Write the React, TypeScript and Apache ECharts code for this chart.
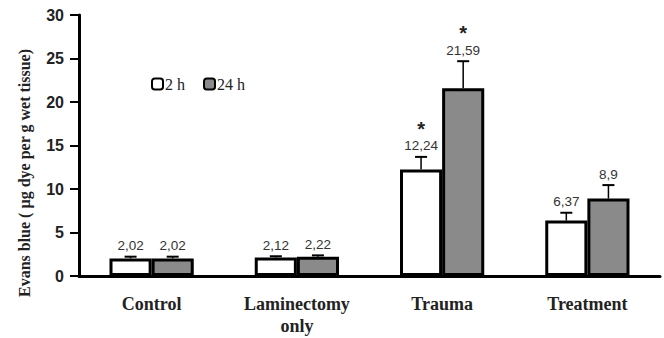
import React, { useEffect, useRef } from "react";
import * as echarts from "echarts";

const categories = ["Control", "Laminectomy\nonly", "Trauma", "Treatment"];
const values2h = [2.02, 2.12, 12.24, 6.37];
const values24h = [2.02, 2.22, 21.59, 8.9];
const errors2h = [0.2, 0.15, 1.45, 0.9];
const errors24h = [0.2, 0.15, 3.1, 1.55];
const labels2h = ["2,02", "2,12", "12,24", "6,37"];
const labels24h = ["2,02", "2,22", "21,59", "8,9"];
const stars2h = [false, false, true, false];
const stars24h = [false, false, true, false];
const yTicks = { min: 0, max: 30, interval: 5 };
const yAxisTitle = "Evans blue ( µg dye per g wet tissue)";

const BAR_FRAC = 0.29;

function errorSeries(name: string, vals: number[], errs: number[], labels: string[], stars: boolean[], side: number) {
  return {
    type: "custom",
    name: name + "err",
    z: 1,
    data: vals.map((v, i) => [i, v, errs[i], stars[i] ? 1 : 0]),
    renderItem: (params: any, api: any) => {
      const idx = api.value(0);
      const v = api.value(1);
      const e = api.value(2);
      const band = api.size([1, 0])[0];
      const off = (side * band * BAR_FRAC) / 2;
      const base = api.coord([idx, v]);
      const top = api.coord([idx, v + e]);
      const x = base[0] + off;
      const children: any[] = [
        { type: "line", shape: { x1: x, y1: base[1], x2: x, y2: top[1] }, style: { stroke: "#000", lineWidth: 1.5 } },
        { type: "line", shape: { x1: x - 6, y1: top[1], x2: x + 6, y2: top[1] }, style: { stroke: "#000", lineWidth: 2 } },
        {
          type: "text",
          x: x,
          y: top[1] - 11,
          style: {
            text: labels[idx],
            textAlign: "center",
            textVerticalAlign: "middle",
            fontFamily: "Liberation Sans, Arial",
            fontSize: 13.5,
            fill: "#333",
          },
        },
      ];
      if (api.value(3)) {
        children.push({
          type: "text",
          x: x,
          y: top[1] - 28,
          style: {
            text: "*",
            textAlign: "center",
            textVerticalAlign: "middle",
            fontFamily: "Liberation Sans, Arial",
            fontSize: 20,
            fontWeight: "bold",
            fill: "#222",
          },
        });
      }
      return { type: "group", children };
    },
  };
}

export default function App() {
  const ref = useRef<HTMLDivElement>(null);
  useEffect(() => {
    if (!ref.current) return;
    const chart = echarts.init(ref.current, null, { renderer: "svg" });
    chart.setOption({
      animation: false,
      backgroundColor: "#fff",
      grid: { left: 79, right: 4, top: 15, bottom: 62, containLabel: false, outerBoundsMode: "none" },
      legend: {
        left: 146,
        top: 71,
        itemWidth: 11,
        itemHeight: 11,
        itemGap: 18,
        textStyle: { fontFamily: "Liberation Serif, Times New Roman", fontSize: 16, color: "#222", padding: [0, 0, 0, -3] },
        data: ["2 h", "24 h"],
      },
      graphic: [
        {
          type: "text",
          x: 24,
          y: 173,
          rotation: Math.PI / 2,
          style: {
            text: yAxisTitle,
            textAlign: "center",
            textVerticalAlign: "middle",
            fontFamily: "Liberation Serif, Times New Roman",
            fontWeight: "bold",
            fontSize: 16,
            fill: "#222",
          },
        },
      ],
      xAxis: {
        type: "category",
        data: categories,
        axisLine: { lineStyle: { color: "#000", width: 3 } },
        axisTick: { show: false },
        axisLabel: {
          fontFamily: "Liberation Serif, Times New Roman",
          fontWeight: "bold",
          fontSize: 18,
          color: "#222",
          margin: 17,
          lineHeight: 22,
        },
      },
      yAxis: {
        type: "value",
        min: yTicks.min,
        max: yTicks.max,
        interval: yTicks.interval,
        splitLine: { show: false },
        axisLine: { show: true, lineStyle: { color: "#000", width: 3 } },
        axisTick: { show: true, length: 9, lineStyle: { color: "#000", width: 2 } },
        axisLabel: { fontFamily: "Liberation Sans, Arial", fontWeight: "bold", fontSize: 16, color: "#222", margin: 15 },
      },
      series: [
        {
          name: "2 h",
          type: "bar",
          data: values2h,
          barWidth: BAR_FRAC * 100 + "%",
          barGap: "0%",
          z: 2,
          itemStyle: { color: "#fff", borderColor: "#000", borderWidth: 3 },
        },
        {
          name: "24 h",
          type: "bar",
          data: values24h,
          barWidth: BAR_FRAC * 100 + "%",
          barGap: "0%",
          z: 2,
          itemStyle: { color: "#8a8a8a", borderColor: "#000", borderWidth: 3 },
        },
        errorSeries("2 h", values2h, errors2h, labels2h, stars2h, -1),
        errorSeries("24 h", values24h, errors24h, labels24h, stars24h, 1),
      ],
    });
    return () => chart.dispose();
  }, []);
  return <div ref={ref} style={{ position: "absolute", left: 0, top: 0, width: 664, height: 338 }} />;
}
